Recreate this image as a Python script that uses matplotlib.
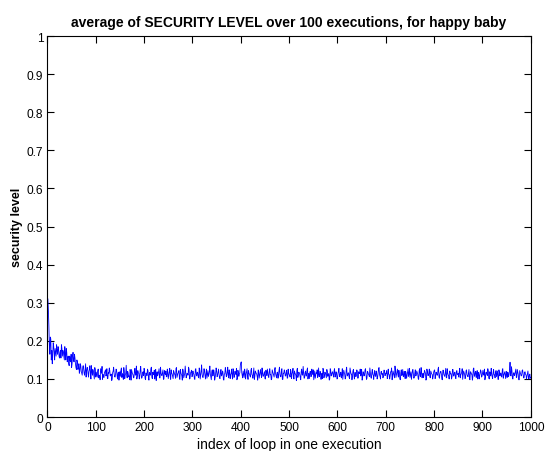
import numpy as np
from matplotlib import pyplot as plt

plt.rcParams['font.family'] = ['Liberation Sans', 'DejaVu Sans']

# average security level per loop index, in 1/1000
# odd loop indices 1, 3, ..., 999
security_odd = [
    310, 240, 165, 205, 175, 160, 185, 150, 170, 190, 165, 180, 155, 175, 190, 160, 170, 150, 165, 180,
    145, 160, 135, 150, 165, 140, 170, 145, 155, 130, 150, 125, 140, 120, 135, 115, 130, 125, 110, 140,
    120, 130, 105, 125, 115, 135, 110, 120, 100, 125,
    118, 105, 126, 110, 98, 121, 133, 112, 104, 119, 108, 127, 101, 115, 122, 109, 96, 117, 131, 106, 113, 124, 100, 118, 111,
    107, 129, 114, 99, 121, 110, 136, 103, 116, 108, 125, 97, 119, 112, 104, 128, 111, 100, 122, 115, 107, 133, 102, 117, 109,
    120, 98, 113, 126, 105, 117, 110, 131, 101, 114, 123, 108, 96, 119, 112, 127, 103, 116, 109, 124, 100, 115, 121, 106, 118,
    111, 128, 99, 116, 107, 122, 113, 102, 130, 109, 117, 104, 125, 112, 97, 120, 108, 134, 103, 115, 110, 126, 101, 118, 106,
    121, 112, 99, 127, 108, 116, 103, 123, 110, 137, 105, 114, 119, 100, 126, 111, 107, 120, 113, 98, 124, 109, 117, 104, 129,
    106, 118, 112, 101, 125, 110, 119, 97, 114, 122, 108, 131, 103, 116, 111, 126, 100, 120, 107, 115, 128, 102, 118, 113, 135,
    145, 109, 121, 104, 117, 112, 127, 99, 115, 108, 123, 111, 102, 129, 106, 118, 113, 97, 121, 110, 125, 104, 116, 108, 119,
    100, 114, 126, 107, 120, 111, 98, 124, 113, 105, 130, 109, 117, 102, 122, 112, 106, 127, 99, 115, 119, 108, 123, 103, 116,
    110, 125, 101, 118, 107, 121, 113, 96, 128, 109, 116, 104, 120, 111, 133, 102, 117, 108, 124, 100, 114, 119, 106, 126, 112,
    98, 121, 110, 115, 104, 129, 107, 118, 112, 101, 124, 109, 116, 103, 120, 113, 97, 127, 108, 117, 111, 122, 105, 119, 100,
    114, 128, 106, 118, 110, 99, 123, 112, 104, 131, 108, 116, 101, 121, 113, 107, 125, 100, 117, 109, 120, 103, 115, 126, 111,
    97, 119, 108, 124, 113, 102, 118, 110, 129, 105, 116, 112, 99, 122, 107, 117, 104, 127, 111, 100, 120, 114, 106, 123, 109,
    115, 101, 126, 112, 108, 119, 98, 121, 110, 134, 104, 117, 111, 123, 100, 116, 109, 125, 106, 113, 120, 102, 118, 107, 128,
    112, 99, 120, 114, 105, 124, 110, 117, 101, 122, 108, 130, 103, 115, 111, 119, 97, 126, 109, 116, 106, 121, 113, 100, 118,
    124, 107, 115, 110, 131, 102, 119, 112, 98, 123, 109, 117, 104, 127, 111, 100, 120, 114, 106, 125, 108, 118, 101, 122, 113,
    105, 128, 110, 117, 99, 121, 112, 106, 124, 108, 116, 102, 119, 113, 97, 126, 109, 118, 104, 122, 111, 100, 115, 120, 107,
    123, 110, 98, 117, 112, 127, 103, 119, 108, 114, 101, 125, 111, 116, 106, 121, 99, 118, 113, 107, 124, 102, 115, 110, 120,
    104, 117, 112, 144, 108, 121, 100, 116, 113, 126, 105, 119, 98, 122, 111, 109, 124, 103, 117, 112, 100, 115, 106, 110, 102,
]
# even loop indices 2, 4, ..., 1000
security_even = [
    280, 190, 210, 150, 140, 195, 170, 180, 160, 175, 185, 160, 170, 155, 180, 175, 160, 185, 150, 170,
    155, 140, 160, 145, 130, 160, 150, 165, 140, 125, 145, 130, 115, 140, 120, 110, 135, 115, 125, 105,
    130, 115, 120, 135, 100, 120, 125, 110, 130, 105,
    112, 120, 103, 109, 127, 115, 99, 106, 118, 124, 111, 102, 117, 129, 108, 113, 100, 121, 114, 105, 126, 110, 116, 97, 119,
    123, 104, 112, 130, 101, 115, 109, 120, 106, 98, 117, 125, 113, 103, 121, 110, 134, 107, 116, 100, 124, 112, 105, 119, 128,
    102, 116, 109, 122, 97, 113, 127, 105, 118, 111, 100, 125, 114, 108, 120, 103, 131, 110, 117, 99, 122, 112, 106, 126, 101,
    119, 107, 124, 113, 101, 118, 110, 128, 104, 115, 122, 99, 117, 109, 126, 103, 114, 120, 107, 112, 131, 100, 116, 123, 108,
    114, 101, 125, 111, 118, 106, 129, 100, 120, 113, 104, 127, 109, 116, 102, 122, 111, 134, 105, 119, 108, 124, 97, 115, 121,
    110, 126, 103, 117, 108, 121, 99, 113, 130, 106, 118, 111, 124, 101, 115, 109, 127, 104, 120, 112, 98, 123, 107, 116, 142,
    117, 103, 112, 126, 100, 119, 108, 122, 113, 105, 128, 110, 117, 99, 121, 114, 106, 124, 102, 118, 111, 129, 107, 115, 101,
    123, 109, 116, 104, 127, 112, 100, 119, 108, 125, 114, 103, 118, 110, 131, 106, 121, 99, 115, 124, 108, 117, 102, 126, 111,
    105, 119, 113, 128, 100, 116, 109, 123, 104, 118, 112, 98, 126, 110, 117, 103, 121, 108, 129, 114, 101, 120, 107, 116, 124,
    109, 102, 117, 124, 111, 106, 120, 99, 115, 128, 103, 118, 110, 125, 107, 114, 100, 122, 112, 119, 105, 127, 109, 116, 101,
    120, 108, 115, 103, 127, 112, 118, 100, 123, 109, 116, 105, 129, 113, 98, 121, 110, 117, 106, 124, 102, 119, 114, 108, 125,
    104, 116, 111, 127, 99, 120, 113, 106, 118, 102, 125, 110, 117, 108, 121, 100, 114, 130, 107, 119, 112, 103, 123, 109, 116,
    122, 106, 113, 100, 119, 129, 108, 115, 103, 121, 111, 126, 105, 117, 98, 124, 112, 107, 120, 101, 116, 109, 127, 113, 104,
    119, 110, 125, 102, 116, 108, 121, 113, 99, 127, 106, 118, 111, 104, 123, 115, 100, 120, 109, 126, 103, 117, 112, 107, 122,
    101, 118, 110, 126, 105, 114, 120, 99, 123, 112, 107, 128, 103, 116, 109, 121, 113, 100, 125, 108, 117, 104, 119, 111, 115,
    120, 103, 114, 127, 109, 116, 101, 122, 111, 106, 125, 98, 118, 113, 104, 129, 107, 120, 112, 100, 117, 109, 124, 105, 116,
    112, 126, 104, 118, 109, 121, 100, 115, 128, 106, 117, 111, 103, 122, 113, 99, 124, 108, 116, 105, 127, 110, 119, 101, 114,
    118, 106, 123, 110, 132, 101, 116, 109, 120, 104, 125, 112, 98, 117, 108, 122, 114, 103, 119, 111, 107, 121, 100, 113, 104,
]

loop_index = np.arange(1, 1001)
security_level = np.empty(1000)
security_level[0::2] = np.array(security_odd) / 1000.0
security_level[1::2] = np.array(security_even) / 1000.0

fig = plt.figure(figsize=(5.45, 4.52), dpi=100)
ax = fig.add_axes([0.087, 0.075, 0.887, 0.843])
ax.plot(loop_index, security_level, color='#0000ff', linewidth=0.6)

ax.set_xlim(0, 1000)
ax.set_ylim(0, 1)
ax.set_xticks(np.arange(0, 1001, 100))
ax.set_yticks(np.arange(0, 1.01, 0.1))
ax.set_yticklabels(['0', '0.1', '0.2', '0.3', '0.4', '0.5', '0.6', '0.7', '0.8', '0.9', '1'])
ax.tick_params(direction='in', top=True, right=True, length=5, width=0.8, labelsize=8.6, pad=3)
for s in ax.spines.values():
    s.set_linewidth(0.8)

ax.set_title('average of SECURITY LEVEL over 100 executions, for happy baby',
             fontsize=10, fontweight='bold', pad=7)
ax.set_xlabel('index of loop in one execution', fontsize=10, labelpad=3)
ax.set_ylabel('security level', fontsize=9, fontweight='bold', labelpad=3)

fig.savefig('out.png', dpi=100)
